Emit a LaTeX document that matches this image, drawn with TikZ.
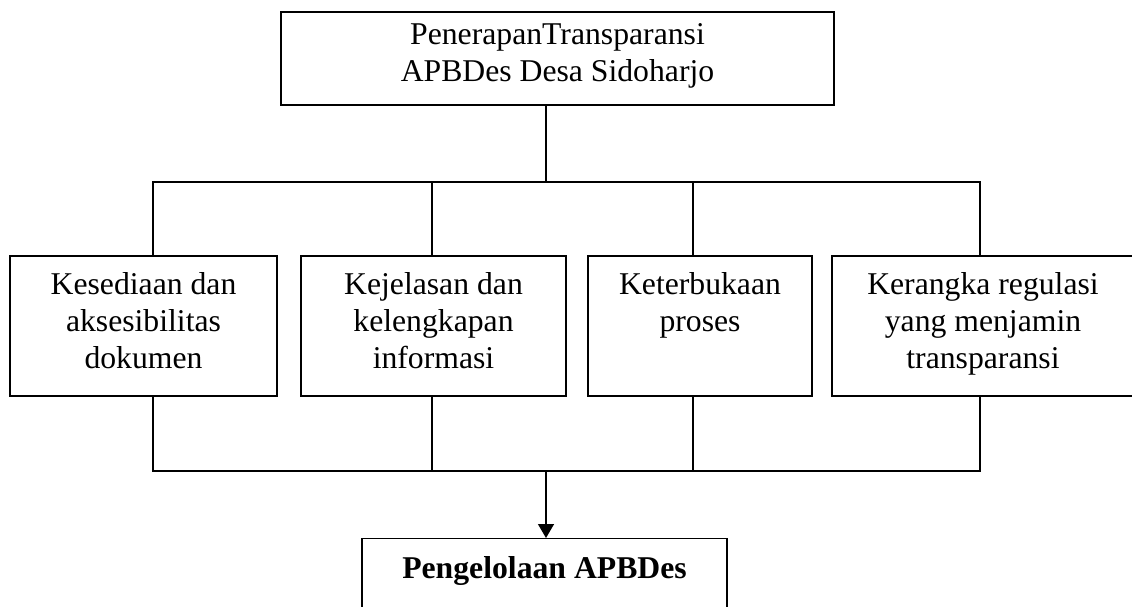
\documentclass[tikz,border=0pt]{standalone}
\usepackage{fontspec}
\setmainfont{Liberation Serif}
\usetikzlibrary{arrows.meta,positioning}
\tikzset{
  boxtext/.style={ draw, align=center, execute at begin node=\strut, execute at end node=\strut }
}
\tikzset{
  boxtop/.style={ boxtext, minimum width=553pt, minimum height=93pt, execute at begin node={\rule{0pt}{32pt}} }
}
\tikzset{
  boxmid/.style={ boxtext, minimum height=140pt }
}
\tikzset{
  boxend/.style={ draw, font=\fontsize{31.7}{37}\selectfont\bfseries, minimum width=365pt, text height=26pt, text depth=40pt, inner ysep=14pt }
}

\begin{document}
\begin{tikzpicture}[x=1pt, y=-1pt, line width=1.4pt, font=\fontsize{31.7}{37}\selectfont]
      \useasboundingbox (0,0) rectangle (1132,606);

      \node[boxtop] (top) at (557.5, 58.5) {PenerapanTransparansi\\APBDes Desa Sidoharjo};

      \node[boxmid, minimum width=267pt] (dok) at (143.5, 326) {Kesediaan dan\\aksesibilitas\\dokumen};
      \node[boxmid, minimum width=265pt] (info) at (433.5, 326) {Kejelasan dan\\kelengkapan\\informasi};
      \node[boxmid, minimum width=224pt] (proses) at (700, 326) {Keterbukaan\\proses\\};
      \node[boxmid, minimum width=302pt] (regulasi) at (983, 326) {Kerangka regulasi\\yang menjamin\\transparansi};

      \node[boxend, anchor=north] (kelola) at (544.5, 538) {Pengelolaan APBDes};

      \coordinate (busT) at (546, 182);
      \coordinate (busB) at (546, 471);

      \draw (top.south -| busT) -- (busT);
      \foreach \n/\x in {dok/153, info/432, proses/693, regulasi/980} {
        \draw (\n.north -| \x,0) |- (busT);
        \draw (\n.south -| \x,0) |- (busB);
      }

      \begin{scope}[-{Triangle[length=14pt, width=16pt]}]
        \draw (busB) -- (kelola.north -| busB);
      \end{scope}
    \end{tikzpicture}
\end{document}
